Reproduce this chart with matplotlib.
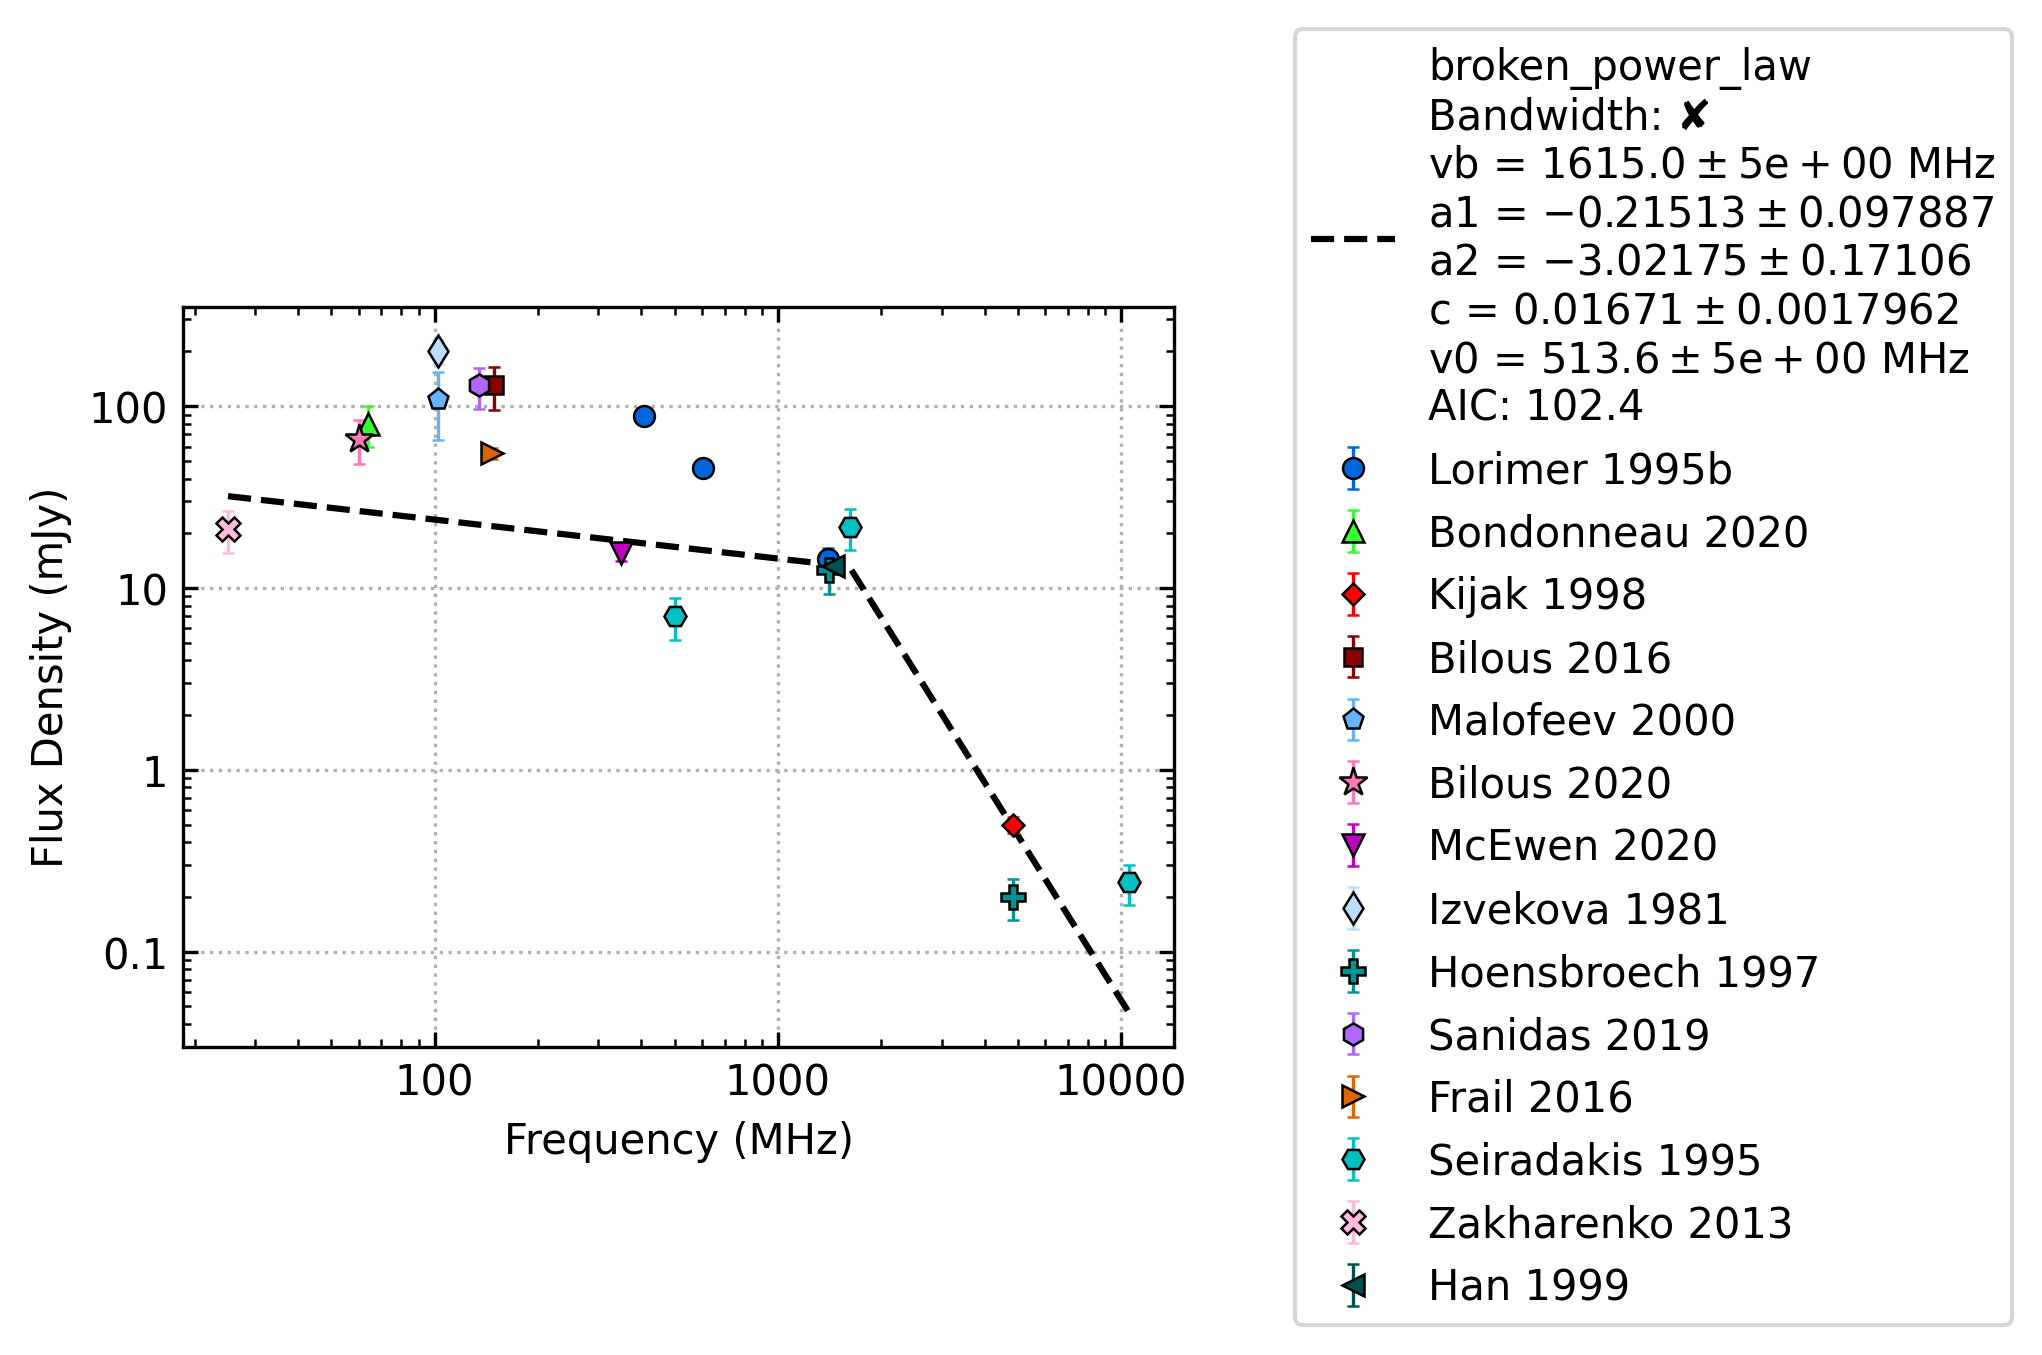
import matplotlib
matplotlib.use("Agg")
import matplotlib.pyplot as plt
from matplotlib.ticker import FuncFormatter

plt.rcParams['mathtext.default'] = 'regular'
plt.rcParams['font.size'] = 10

# Dati: frequenza (MHz), flusso (mJy), errore (mJy)
lorimer_freq = [408, 606, 1400]
lorimer_flux = [88.5, 46, 14.5]
lorimer_err = [4, 2, 2.2]

bondonneau_freq = [64]
bondonneau_flux = [80]
bondonneau_err = [20]

kijak_freq = [4850]
kijak_flux = [0.5]
kijak_err = [0.05]

bilous16_freq = [149]
bilous16_flux = [130]
bilous16_err = [35]

malofeev_freq = [102]
malofeev_flux = [110]
malofeev_err = [45]

bilous20_freq = [60]
bilous20_flux = [66]
bilous20_err = [18]

mcewen_freq = [350]
mcewen_flux = [15.5]
mcewen_err = [1.5]

izvekova_freq = [102]
izvekova_flux = [200]
izvekova_err = [30]

hoensbroech_freq = [1410, 4850]
hoensbroech_flux = [12.5, 0.2]
hoensbroech_err = [3.2, 0.05]

sanidas_freq = [135]
sanidas_flux = [130]
sanidas_err = [33]

frail_freq = [147]
frail_flux = [55]
frail_err = [4]

seiradakis_freq = [500, 1620, 10550]
seiradakis_flux = [7.0, 21.7, 0.24]
seiradakis_err = [1.8, 5.5, 0.06]

zakharenko_freq = [25]
zakharenko_flux = [21]
zakharenko_err = [5.5]

han_freq = [1450]
han_flux = [13.2]
han_err = [1]

# vertici della legge di potenza spezzata (retta in log-log)
fit_freq = [25, 1615, 10550]
fit_flux = [32.0, 13.1, 0.046]

fit_label = ("broken_power_law\n"
             "Bandwidth: \u2718\n"
             r"vb = $1615.0 \pm 5e+00$ MHz" "\n"
             r"a1 = $-0.21513 \pm 0.097887$" "\n"
             r"a2 = $-3.02175 \pm 0.17106$" "\n"
             r"c = $0.01671 \pm 0.0017962$" "\n"
             r"v0 = $513.6 \pm 5e+00$ MHz" "\n"
             "AIC: 102.4")

# (etichetta, freq, flusso, errore, marker, colore, dimensione marker)
datasets = [
    ("Lorimer 1995b", lorimer_freq, lorimer_flux, lorimer_err, 'o', '#0066DD', 5),
    ("Bondonneau 2020", bondonneau_freq, bondonneau_flux, bondonneau_err, '^', '#33FF33', 5.5),
    ("Kijak 1998", kijak_freq, kijak_flux, kijak_err, 'D', '#FF0000', 3.6),
    ("Bilous 2016", bilous16_freq, bilous16_flux, bilous16_err, 's', '#8B0000', 4.2),
    ("Malofeev 2000", malofeev_freq, malofeev_flux, malofeev_err, 'p', '#66B2FF', 5.2),
    ("Bilous 2020", bilous20_freq, bilous20_flux, bilous20_err, '*', '#FF77BB', 7),
    ("McEwen 2020", mcewen_freq, mcewen_flux, mcewen_err, 'v', '#BF00BF', 5.5),
    ("Izvekova 1981", izvekova_freq, izvekova_flux, izvekova_err, 'd', '#BBDDFF', 5.5),
    ("Hoensbroech 1997", hoensbroech_freq, hoensbroech_flux, hoensbroech_err, 'P', '#009393', 5.6),
    ("Sanidas 2019", sanidas_freq, sanidas_flux, sanidas_err, 'h', '#B266FF', 5.3),
    ("Frail 2016", frail_freq, frail_flux, frail_err, '>', '#DD6600', 5.5),
    ("Seiradakis 1995", seiradakis_freq, seiradakis_flux, seiradakis_err, 'H', '#00C0C0', 5.3),
    ("Zakharenko 2013", zakharenko_freq, zakharenko_flux, zakharenko_err, 'X', '#FFBBDD', 5.6),
    ("Han 1999", han_freq, han_flux, han_err, '<', '#005050', 5.5),
]

fig = plt.figure(figsize=(2042 / 300, 1356 / 300), dpi=300)
ax = fig.add_axes([0.0896, 0.2275, 0.4854, 0.5455])

ax.plot(fit_freq, fit_flux, 'k--', lw=1.5, label=fit_label)

for label, f, s, e, m, c, size in datasets:
    ax.errorbar(f, s, yerr=e, fmt=m, color=c, ecolor=c, mec='k', mew=0.6,
                ms=size, elinewidth=0.8, capsize=1.5, capthick=0.8, label=label)

ax.set_xscale('log')
ax.set_yscale('log')
fmt = FuncFormatter(lambda v, _: f'{v:g}')
ax.xaxis.set_major_formatter(fmt)
ax.yaxis.set_major_formatter(fmt)
ax.tick_params(which='both', direction='in', top=True, right=True)
ax.grid(True, which='major', linestyle=':', color='#b0b0b0', lw=0.8)
ax.set_xlabel('Frequency (MHz)')
ax.set_ylabel('Flux Density (mJy)')

fig.legend(*ax.get_legend_handles_labels(), loc='center left',
           bbox_to_anchor=(0.634, 0.5), borderaxespad=0, fontsize=10)

fig.savefig('out.png', dpi=300)
